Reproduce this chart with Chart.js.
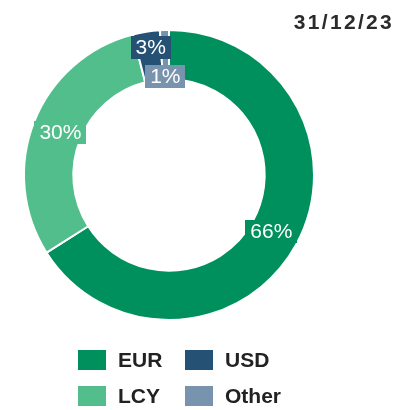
<!DOCTYPE html>
<html>
<head>
<meta charset="utf-8">
<script src="https://cdn.jsdelivr.net/npm/chart.js@4"></script>
<style>
  html, body { margin: 0; padding: 0; background: #fff; }
  body { width: 414px; height: 410px; position: relative; overflow: hidden; font-family: "Liberation Sans", Arial, sans-serif; }
  #wrap { position: absolute; left: 0; top: 0; width: 338px; height: 350px; }
  #date { position: absolute; right: 20px; top: 10px; font-size: 21px; font-weight: bold; color: #2b2b2b; letter-spacing: 2.3px; }
  #legend { position: absolute; left: 78px; top: 348px; display: grid; grid-template-columns: 107px 120px; row-gap: 12px; }
  .lg { display: flex; align-items: center; font-size: 21px; font-weight: bold; color: #222; height: 24px; }
  .lg i { display: inline-block; width: 28px; height: 20px; margin-right: 12px; }
</style>
</head>
<body>
<div id="wrap"><canvas id="mixChart"></canvas></div>
<div id="date">31/12/23</div>
<div id="legend"></div>

<script>
// currency mix at 31/12/23 (%)
const labels = ['EUR', 'LCY', 'USD', 'Other'];
const values = [66, 30, 3, 1];
const colors = ['#00905E', '#52BE8C', '#245174', '#7893AE'];

// boxed % labels on each slice, pushed apart when they collide
const sliceLabels = {
  id: 'sliceLabels',
  afterDatasetsDraw(chart) {
    const { ctx } = chart;
    const meta = chart.getDatasetMeta(0);
    const total = values.reduce((a, b) => a + b, 0);
    ctx.save();
    ctx.font = '21px "Liberation Sans", Arial, sans-serif';
    ctx.textBaseline = 'middle';
    ctx.textAlign = 'center';

    const h = 23;
    const boxes = meta.data.map((arc, i) => {
      const p = arc.tooltipPosition();
      // sit a touch inside the ring's mid-line
      const x = arc.x + (p.x - arc.x) * 0.97;
      const y = arc.y + (p.y - arc.y) * 0.97;
      const txt = Math.round(values[i] / total * 100) + '%';
      const w = ctx.measureText(txt).width + 10;
      return { x, y, w, txt, color: colors[i] };
    });

    for (let i = 0; i < boxes.length; i++) {
      for (let j = i + 1; j < boxes.length; j++) {
        const a = boxes[i], b = boxes[j];
        const overlapX = Math.abs(a.x - b.x) < (a.w + b.w) / 2;
        const overlapY = Math.abs(a.y - b.y) < h + 4;
        if (overlapX && overlapY) {
          const mid = (a.y + b.y) / 2 + 3;
          a.y = mid - (h + 6) / 2;
          b.y = mid + (h + 6) / 2;
        }
      }
    }

    boxes.forEach(b => {
      ctx.fillStyle = b.color;
      ctx.fillRect(Math.round(b.x - b.w / 2), Math.round(b.y - h / 2), Math.round(b.w), h);
      ctx.fillStyle = '#fff';
      ctx.fillText(b.txt, b.x, b.y + 1);
    });
    ctx.restore();
  }
};

new Chart(document.getElementById('mixChart'), {
  type: 'doughnut',
  data: {
    labels,
    datasets: [{
      data: values,
      backgroundColor: colors,
      borderColor: '#fff',
      borderWidth: 2,
      hoverOffset: 0,
    }]
  },
  options: {
    responsive: true,
    maintainAspectRatio: false,
    animation: false,
    cutout: '66%',
    layout: { padding: { left: 23, right: 23, top: 29, bottom: 29 } },
    plugins: {
      legend: { display: false },
      tooltip: { enabled: false },
    }
  },
  plugins: [sliceLabels]
});

// legend grid, row by row: EUR, USD / LCY, Other
const lg = document.getElementById('legend');
lg.innerHTML = [0, 2, 1, 3].map(i =>
  `<div class="lg"><i style="background:${colors[i]}"></i>${labels[i]}</div>`
).join('');
</script>
</body>
</html>
